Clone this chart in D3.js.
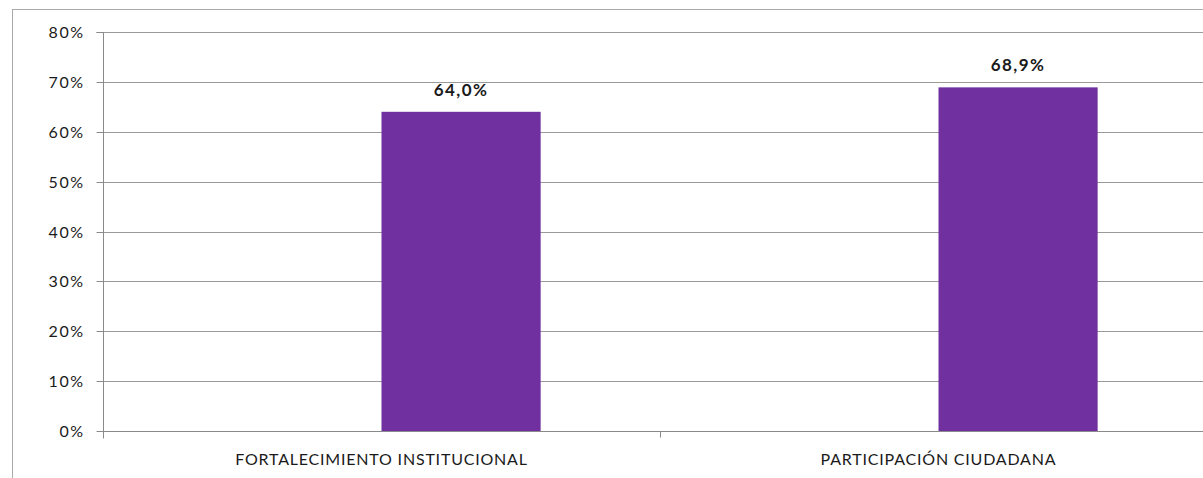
<!DOCTYPE html>
<html>
<head>
<meta charset="utf-8">
<script src="https://cdn.jsdelivr.net/npm/d3@7"></script>
<style>
  html, body { margin: 0; padding: 0; background: #fff; }
  svg { display: block; }
</style>
</head>
<body>
<svg id="chart" width="1203" height="478"></svg>
<script>
const categories = ["FORTALECIMIENTO INSTITUCIONAL", "PARTICIPACIÓN CIUDADANA"];
const seriesNames = ["Serie 1", "Serie 2"];
const series1Values = [null, null];
const series2Values = [64.0, 68.9];
const yTickValues = [0, 10, 20, 30, 40, 50, 60, 70, 80];

const svg = d3.select("#chart");
const x0 = 103, x1 = 1217, yTop = 32, yBot = 431;
const FONT = "Lato, 'Open Sans', sans-serif";

// outer frame
svg.append("rect")
  .attr("x", 12.5).attr("y", 9.5)
  .attr("width", 1250).attr("height", 520)
  .attr("fill", "none").attr("stroke", "#a9a9a9").attr("stroke-width", 1);

const y = d3.scaleLinear().domain([0, 80]).range([yBot, yTop]);
const x = d3.scaleBand().domain(categories).range([x0, x1]).paddingInner(0).paddingOuter(0);
const xs = d3.scaleBand().domain(seriesNames).range([0, x.bandwidth()]).paddingInner(0).paddingOuter(0.75);

// gridlines
svg.append("g").selectAll("line").data(yTickValues.filter(d => d > 0)).join("line")
  .attr("x1", x0).attr("x2", x1)
  .attr("y1", d => Math.round(y(d)) + 0.5).attr("y2", d => Math.round(y(d)) + 0.5)
  .attr("stroke", "#9a9a9a").attr("stroke-width", 1);

// y axis
const yAxis = d3.axisLeft(y).tickValues(yTickValues).tickSize(7).tickPadding(12)
  .tickFormat(d => d + "%");
const gy = svg.append("g").attr("transform", `translate(${x0 + 0.5},0.5)`).call(yAxis);
gy.select(".domain").attr("stroke", "#8a8a8a").attr("d", `M-7,${yTop}H0V${yBot + 7}`);
gy.selectAll(".tick line").attr("stroke", "#8a8a8a");
gy.selectAll(".tick text")
  .attr("font-family", FONT).attr("font-size", 16)
  .attr("letter-spacing", 1.5)
  .attr("fill", "#1a1a1a");
gy.selectAll(".tick").attr("transform", d => `translate(0,${Math.round(y(d))})`);

// x axis
const gx = svg.append("g").attr("transform", `translate(0,${yBot + 0.5})`);
gx.append("line").attr("x1", x0).attr("x2", x1).attr("y1", 0).attr("y2", 0)
  .attr("stroke", "#8a8a8a");
const boundaries = categories.map(c => x(c)).concat([x1]);
gx.selectAll("line.tk").data(boundaries).join("line").attr("class", "tk")
  .attr("x1", d => Math.round(d) + 0.5).attr("x2", d => Math.round(d) + 0.5)
  .attr("y1", 0).attr("y2", 6).attr("stroke", "#8a8a8a");
gx.selectAll("text").data(categories).join("text")
  .attr("x", d => x(d) + x.bandwidth() / 2)
  .attr("y", 33)
  .attr("text-anchor", "middle")
  .attr("font-family", FONT).attr("font-size", 16)
  .attr("letter-spacing", 0.8)
  .attr("fill", "#1a1a1a")
  .text(d => d);

// bars
const rows = categories.map((c, i) => ({ cat: c, values: [
  { s: seriesNames[0], v: series1Values[i] },
  { s: seriesNames[1], v: series2Values[i] }
]}));

const gBars = svg.append("g");
rows.forEach(r => {
  r.values.filter(d => d.v != null).forEach(d => {
    const bx = x(r.cat) + xs(d.s);
    gBars.append("rect")
      .attr("x", bx).attr("y", y(d.v))
      .attr("width", xs.bandwidth()).attr("height", yBot - y(d.v))
      .attr("fill", "#7030a0");
    gBars.append("text")
      .attr("x", bx + xs.bandwidth() / 2)
      .attr("y", y(d.v) - 16)
      .attr("text-anchor", "middle")
      .attr("font-family", FONT).attr("font-weight", "bold")
      .attr("font-size", 17).attr("letter-spacing", 1.4).attr("fill", "#1a1a1a")
      .text(d.v.toFixed(1).replace(".", ",") + "%");
  });
});
</script>
</body>
</html>
